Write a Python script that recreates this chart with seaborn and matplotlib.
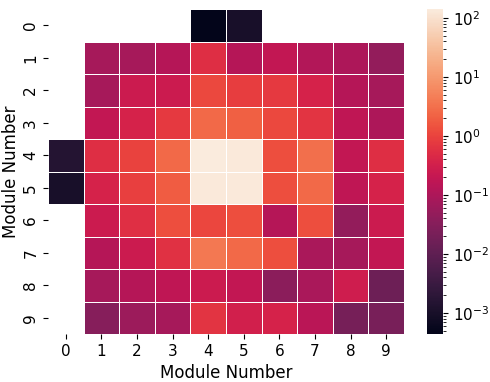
import matplotlib
matplotlib.use('Agg')
import matplotlib.pyplot as plt
import seaborn as sns
import numpy as np
import pandas as pd
from matplotlib.colors import LogNorm

# module x module values (NaN = no data)
modules = list(range(10))
row0 = [np.nan, np.nan, np.nan, np.nan, 4.4e-4, 1.0e-3, np.nan, np.nan, np.nan, np.nan]
row1 = [np.nan, 0.08, 0.08, 0.13, 0.54, 0.13, 0.19, 0.115, 0.10, 0.048]
row2 = [np.nan, 0.08, 0.25, 0.25, 1.15, 0.83, 0.78, 0.36, 0.13, 0.08]
row3 = [np.nan, 0.19, 0.36, 0.78, 2.6, 2.1, 1.15, 0.65, 0.17, 0.10]
row4 = [1.5e-3, 0.54, 1.0, 2.6, 142, 130, 1.3, 3.0, 0.19, 0.54]
row5 = [1.0e-3, 0.36, 0.9, 1.9, 130, 130, 1.3, 2.6, 0.17, 0.37]
row6 = [np.nan, 0.25, 0.56, 1.3, 1.1, 1.3, 0.13, 1.3, 0.048, 0.25]
row7 = [np.nan, 0.13, 0.25, 0.6, 4.0, 2.6, 1.3, 0.09, 0.08, 0.19]
row8 = [np.nan, 0.08, 0.13, 0.17, 0.25, 0.19, 0.037, 0.09, 0.28, 0.015]
row9 = [np.nan, 0.032, 0.062, 0.08, 0.65, 0.32, 0.37, 0.15, 0.02, 0.022]

df = pd.DataFrame([row0, row1, row2, row3, row4, row5, row6, row7, row8, row9],
                  index=modules, columns=modules)

fig = plt.figure(figsize=(4.9, 3.82), dpi=100)
ax = fig.add_axes([48/490, 1-334/382, 356/490, 325/382])
cax = fig.add_axes([427/490, 1-334/382, 16/490, 325/382])

vals = df.values[~np.isnan(df.values)]
sns.heatmap(df, ax=ax, cbar_ax=cax, norm=LogNorm(vmin=vals.min(), vmax=vals.max()),
            linewidths=0.7, linecolor='white')

ax.set_xlabel('Module Number', fontsize=12)
ax.set_ylabel('Module Number', fontsize=12, labelpad=2)
ax.tick_params(labelsize=11)
plt.setp(ax.get_yticklabels(), rotation=90, va='center')
plt.setp(ax.get_xticklabels(), rotation=0)
cax.tick_params(labelsize=11)

plt.savefig('out.png', dpi=100)
plt.close()
